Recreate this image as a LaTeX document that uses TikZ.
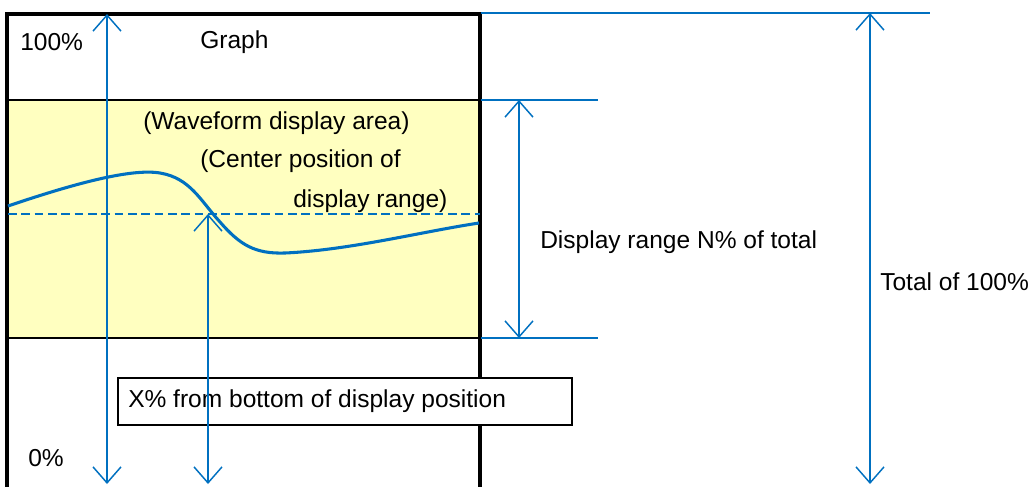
\documentclass[tikz,border=0pt]{standalone}
\usepackage{fontspec}
\setmainfont{Liberation Sans}
\usetikzlibrary{arrows.meta}
\definecolor{lineblue}{RGB}{0,112,192}
\definecolor{areayellow}{RGB}{255,255,192}
\tikzset{
  lbl/.style={inner sep=0pt, anchor=west, font=\fontsize{18.4}{22}\selectfont},
  dim/.style={draw=lineblue, line width=1.1pt},
  dimarrow/.style={dim, {Straight Barb[length=12pt,width=21pt]}-{Straight Barb[length=12pt,width=21pt]}},
  graphborder/.style={draw=black, line width=2.4pt},
  divider/.style={draw=black, line width=1.2pt},
}
\begin{document}
\begin{tikzpicture}[x=0.75pt,y=-0.75pt]
\useasboundingbox (0,0) rectangle (1031,486);
% yellow display area
\fill[areayellow] (8,100) rectangle (480,338);
\draw[divider] (8,100) -- (480,100);
\draw[divider] (8,338) -- (480,338);
% graph box
\draw[graphborder] (7,490) -- (7,14) -- (480,14) -- (480,490);
% extension lines
\coordinate (tt) at (481,13);
\coordinate (te) at (930,13);
\coordinate (ra) at (481,100);
\coordinate (rae) at (598,100);
\coordinate (rb) at (481,338);
\coordinate (rbe) at (598,338);
\draw[dim] (tt) -- (te);
\draw[dim] (ra) -- (rae);
\draw[dim] (rb) -- (rbe);
% dashed center line
\coordinate (dl) at (8,214);
\coordinate (dr) at (480,214);
\draw[draw=lineblue, line width=1.6pt, dash pattern=on 6.5pt off 3.5pt] (dl) -- (dr);
% waveform
\draw[draw=lineblue, line width=2.3pt] (8,206) .. controls (70,185) and (130,168) .. (160,173)
  .. controls (190,178) and (200,200) .. (220,222)
  .. controls (240,245) and (255,254) .. (285,253)
  .. controls (350,250) and (420,232) .. (479,223);
% label box
\node[draw=black, line width=1.1pt, fill=white, minimum width=454*0.75pt, minimum height=47*0.75pt, inner sep=0pt] (xbox) at (345,401.5) {};
\node[lbl] (xlbl) at (128,401) {X\% from bottom of display position};
% arrows
\coordinate (a1t) at (107,14);
\coordinate (a1b) at (107,484);
\draw[dimarrow] (a1t) -- (a1b);
\coordinate (a2t) at (208,214);
\coordinate (a2b) at (208,484);
\draw[dimarrow] (a2t) -- (a2b);
\coordinate (a3t) at (519,100);
\coordinate (a3b) at (519,338);
\draw[dimarrow] (a3t) -- (a3b);
\coordinate (a4t) at (870,13);
\coordinate (a4b) at (870,484);
\draw[dimarrow] (a4t) -- (a4b);
% texts
\node[lbl] (p100) at (20,42) {100\%};
\node[lbl] (graph) at (200,42) {Graph};
\node[lbl] (wave) at (143,123) {(Waveform display area)};
\node[lbl] (cen1) at (200,161) {(Center position of};
\node[lbl] (cen2) at (293,201) {display range)};
\node[lbl] (drange) at (540,242) {Display range N\% of total};
\node[lbl] (total) at (880,282) {Total of 100\%};
\node[lbl] (p0) at (28,458) {0\%};
\end{tikzpicture}
\end{document}
